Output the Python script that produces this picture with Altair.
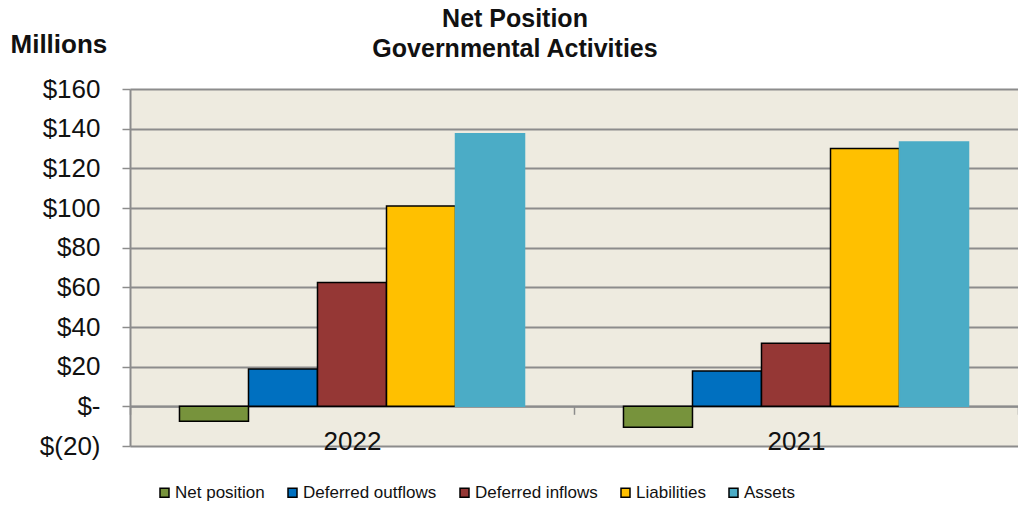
import altair as alt
import pandas as pd

years = ["2022", "2021"]
series = ["Net position", "Deferred outflows", "Deferred inflows", "Liabilities", "Assets"]
values_2022 = [-7.5, 18.8, 62.5, 101.0, 137.5]
values_2021 = [-10.5, 17.8, 31.8, 130.0, 133.3]
colors = ["#77933C", "#0070C0", "#953735", "#FFC000", "#4BACC6"]
y_ticks = [-20, 0, 20, 40, 60, 80, 100, 120, 140, 160]
title_lines = ["Net Position", "Governmental Activities"]

rows = []
for s, v in zip(series, values_2022):
    rows.append({"year": "2022", "series": s, "value": v})
for s, v in zip(series, values_2021):
    rows.append({"year": "2021", "series": s, "value": v})
df = pd.DataFrame(rows)

FONT = "Liberation Sans"
GRID = "#8C8C8C"

bars = alt.Chart(df).mark_bar(strokeWidth=1.5).encode(
    x=alt.X("year:N", sort=years,
            scale=alt.Scale(paddingInner=0, paddingOuter=0),
            axis=alt.Axis(title=None, labelAngle=0, labelFontSize=26, labelColor="#111",
                          labelFont=FONT, labelPadding=14, offset=-39.7,
                          domainColor=GRID, domainWidth=2, tickColor=GRID, tickWidth=1.5,
                          tickSize=8, tickBand="extent", grid=False)),
    xOffset=alt.XOffset("series:N", sort=series,
                        scale=alt.Scale(paddingInner=0, paddingOuter=0.717)),
    y=alt.Y("value:Q",
            scale=alt.Scale(domain=[-20, 160], nice=False, zero=False),
            axis=alt.Axis(values=y_ticks, title="Millions", titleAngle=0, titleAlign="left",
                          titleBaseline="alphabetic", titleX=-120, titleY=-37,
                          titleFontSize=26, titleFont=FONT, titleFontWeight="bold",
                          titleColor="#111",
                          labelExpr="datum.value == 0 ? '$-' : (datum.value < 0 ? '$(' + abs(datum.value) + ')' : '$' + datum.value)",
                          labelFontSize=26, labelFont=FONT, labelColor="#111", labelPadding=22,
                          tickSize=8, tickColor=GRID, tickWidth=1.5,
                          domainColor=GRID, domainWidth=2,
                          gridColor=GRID, gridWidth=2)),
    color=alt.Color("series:N", sort=series,
                    scale=alt.Scale(domain=series, range=colors),
                    legend=alt.Legend(title=None, orient="none", direction="horizontal",
                                      legendX=26, legendY=395, symbolType="square",
                                      symbolSize=81, symbolStrokeColor="black",
                                      symbolStrokeWidth=1.5, symbolOpacity=1,
                                      labelFontSize=17, labelFont=FONT, labelColor="#111",
                                      labelOffset=2, columnPadding=19)),
    stroke=alt.condition(alt.datum.series == "Assets", alt.value("#4BACC6"), alt.value("black")),
)

title = alt.Chart(pd.DataFrame({"t": [0]})).mark_text(
    text=title_lines, fontSize=25, font=FONT, fontWeight="bold", color="#111",
    lineHeight=30, baseline="alphabetic", align="center",
).encode(x=alt.value(385), y=alt.value(-62))

chart = alt.layer(bars, title).properties(
    width=888,
    height=357,
    autosize=alt.AutoSizeParams(type="none"),
    padding={"left": 130, "top": 89, "right": 0, "bottom": 60},
    background="white",
).configure_view(fill="#EEEBE0", stroke=None)

chart.save("out.html", embed_options={"renderer": "svg", "actions": False})
